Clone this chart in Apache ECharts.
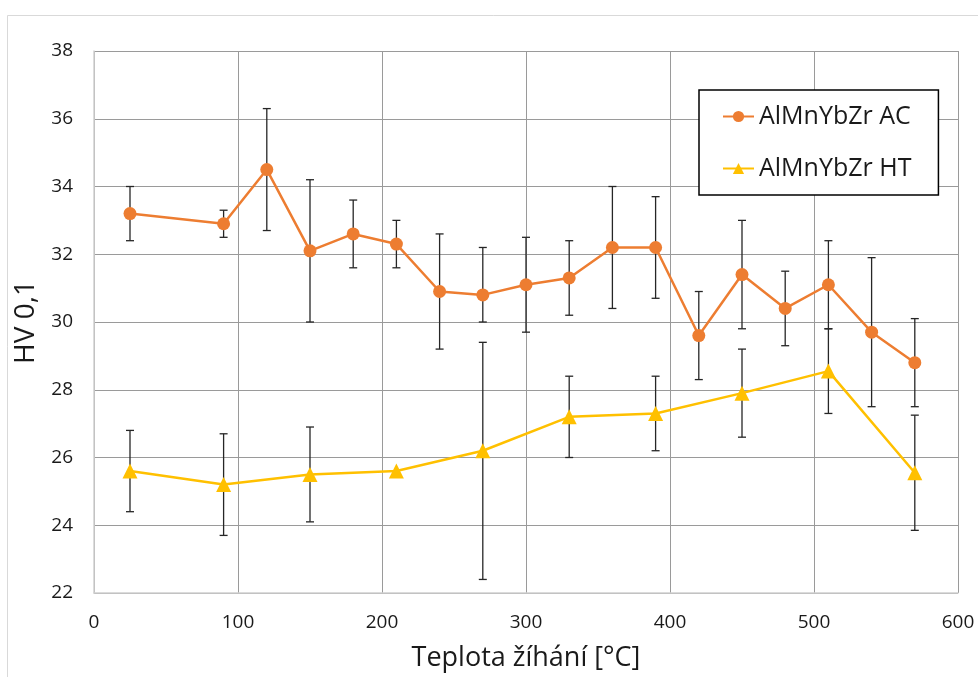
<!DOCTYPE html>
<html>
<head>
<meta charset="utf-8">
<script src="https://cdn.jsdelivr.net/npm/echarts@6/dist/echarts.min.js"></script>
<style>
  html, body { margin: 0; padding: 0; background: #fff; }
  #chart { width: 978px; height: 677px; }
</style>
</head>
<body>
<div id="chart"></div>
<script>
// AlMnYbZr AC
var tempAC = [25, 90, 120, 150, 180, 210, 240, 270, 300, 330, 360, 390, 420, 450, 480, 510, 540, 570];
var hvAC = [33.2, 32.9, 34.5, 32.1, 32.6, 32.3, 30.9, 30.8, 31.1, 31.3, 32.2, 32.2, 29.6, 31.4, 30.4, 31.1, 29.7, 28.8];
var errUpAC = [0.8, 0.4, 1.8, 2.1, 1.0, 0.7, 1.7, 1.4, 1.4, 1.1, 1.8, 1.5, 1.3, 1.6, 1.1, 1.3, 2.2, 1.3];
var errDownAC = [0.8, 0.4, 1.8, 2.1, 1.0, 0.7, 1.7, 0.8, 1.4, 1.1, 1.8, 1.5, 1.3, 1.6, 1.1, 1.3, 2.2, 1.3];

// AlMnYbZr HT
var tempHT = [25, 90, 150, 210, 270, 330, 390, 450, 510, 570];
var hvHT = [25.6, 25.2, 25.5, 25.6, 26.2, 27.2, 27.3, 27.9, 28.55, 25.55];
var errUpHT = [1.2, 1.5, 1.4, 0, 3.2, 1.2, 1.1, 1.3, 1.25, 1.7];
var errDownHT = [1.2, 1.5, 1.4, 0, 3.8, 1.2, 1.1, 1.3, 1.25, 1.7];

var font = 'Open Sans';
var textColor = '#1a1a1a';

function pairs(xs, ys) {
  return xs.map(function (x, i) { return [x, ys[i]]; });
}
function bars(xs, ys, up, down) {
  var out = [];
  xs.forEach(function (x, i) {
    if (up[i] > 0 || down[i] > 0) out.push([x, ys[i] - down[i], ys[i] + up[i]]);
  });
  return out;
}

function renderErr(params, api) {
  var top = api.coord([api.value(0), api.value(2)]);
  var bot = api.coord([api.value(0), api.value(1)]);
  var w = 4;
  var style = { stroke: '#262626', lineWidth: 1.3 };
  return {
    type: 'group',
    children: [
      { type: 'line', shape: { x1: top[0], y1: top[1], x2: bot[0], y2: bot[1] }, style: style },
      { type: 'line', shape: { x1: top[0] - w, y1: top[1], x2: top[0] + w, y2: top[1] }, style: style },
      { type: 'line', shape: { x1: bot[0] - w, y1: bot[1], x2: bot[0] + w, y2: bot[1] }, style: style }
    ]
  };
}

var chart = echarts.init(document.getElementById('chart'));
var option = {
  backgroundColor: '#fff',
  animation: false,
  graphic: [{
    type: 'rect',
    shape: { x: 7.5, y: 15.5, width: 1000, height: 700 },
    style: { fill: 'none', stroke: '#d9d9d9', lineWidth: 1 },
    silent: true
  }],
  grid: { left: 94, top: 51, right: 20, bottom: 84 },
  legend: {
    orient: 'vertical',
    left: 699,
    top: 90,
    padding: [14, 27, 14, 23],
    itemGap: 27,
    itemWidth: 31,
    itemHeight: 14,
    backgroundColor: '#fff',
    borderColor: '#000',
    borderWidth: 1.5,
    textStyle: { fontFamily: font, fontSize: 25, color: textColor },
    data: ['AlMnYbZr AC', 'AlMnYbZr HT']
  },
  xAxis: {
    type: 'value',
    min: 0, max: 600, interval: 100,
    name: 'Teplota žíhání [°C]',
    nameLocation: 'middle',
    nameGap: 52,
    nameTextStyle: { fontFamily: font, fontSize: 27, color: textColor },
    axisLine: { show: true, lineStyle: { color: '#d0d0d0', width: 1.5 } },
    axisTick: { show: false },
    axisLabel: { fontFamily: font, fontSize: 19, color: textColor, margin: 20 },
    splitLine: { show: true, lineStyle: { color: '#9a9a9a', width: 1 } }
  },
  yAxis: {
    type: 'value',
    min: 22, max: 38, interval: 2,
    name: 'HV 0,1',
    nameLocation: 'middle',
    nameGap: 49,
    nameTextStyle: { fontFamily: font, fontSize: 28, color: textColor },
    axisLine: { show: true, lineStyle: { color: '#d0d0d0', width: 1.5 } },
    axisTick: { show: false },
    axisLabel: { fontFamily: font, fontSize: 19, color: textColor, margin: 21 },
    splitLine: { show: true, lineStyle: { color: '#9a9a9a', width: 1 } }
  },
  series: [
    {
      name: 'errAC',
      type: 'custom',
      renderItem: renderErr,
      encode: { x: 0, y: [1, 2] },
      data: bars(tempAC, hvAC, errUpAC, errDownAC),
      z: 1,
      silent: true
    },
    {
      name: 'errHT',
      type: 'custom',
      renderItem: renderErr,
      encode: { x: 0, y: [1, 2] },
      data: bars(tempHT, hvHT, errUpHT, errDownHT),
      z: 1,
      silent: true
    },
    {
      name: 'AlMnYbZr AC',
      type: 'line',
      data: pairs(tempAC, hvAC),
      symbol: 'circle',
      symbolSize: 13,
      color: '#ED7D31',
      lineStyle: { width: 2.5, color: '#ED7D31' },
      itemStyle: { color: '#ED7D31' },
      z: 3
    },
    {
      name: 'AlMnYbZr HT',
      type: 'line',
      data: pairs(tempHT, hvHT),
      symbol: 'triangle',
      symbolSize: 15,
      color: '#FFC000',
      lineStyle: { width: 2.5, color: '#FFC000' },
      itemStyle: { color: '#FFC000' },
      z: 2
    }
  ]
};
chart.setOption(option);
</script>
</body>
</html>
